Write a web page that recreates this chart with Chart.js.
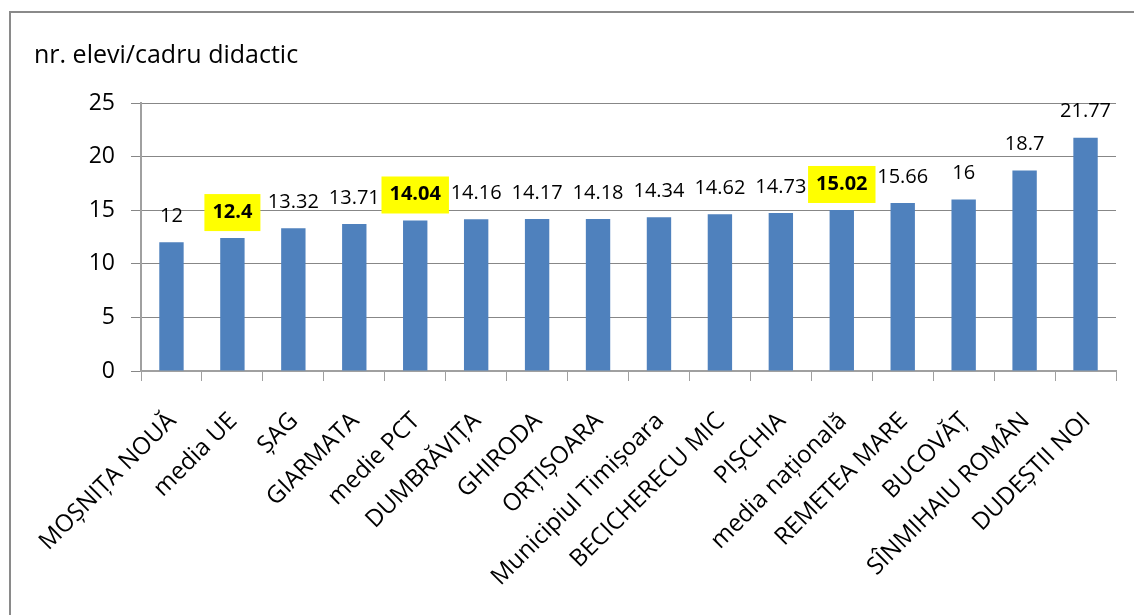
<!DOCTYPE html>
<html>
<head>
<meta charset="utf-8">
<script src="https://cdn.jsdelivr.net/npm/chart.js@4"></script>
<style>
    html, body { margin: 0; padding: 0; background: #fff; overflow: hidden; }
    #wrap { position: relative; width: 1134px; height: 615px; }
    #frame {
        position: absolute; left: 9px; top: 11px; width: 1200px; height: 700px;
        border: 2px solid #8a8a8a; box-sizing: border-box;
    }
    #chart { position: absolute; left: 0; top: 0; }
</style>
</head>
<body>
<div id="wrap">
    <div id="frame"></div>
    <canvas id="chart" width="1134" height="615"></canvas>
</div>
<script>
// === DATA ===
const categories = [
    "MOȘNIȚA NOUĂ", "media UE", "ȘAG", "GIARMATA", "medie PCT", "DUMBRĂVIȚA",
    "GHIRODA", "ORȚIȘOARA", "Municipiul Timișoara", "BECICHERECU MIC", "PIȘCHIA",
    "media națională", "REMETEA MARE", "BUCOVĂȚ", "SÎNMIHAIU ROMÂN", "DUDEȘTII NOI",
];
const values = [12, 12.4, 13.32, 13.71, 14.04, 14.16, 14.17, 14.18, 14.34, 14.62, 14.73, 15.02, 15.66, 16, 18.7, 21.77];
// categories whose value label is highlighted in yellow
const highlighted = ["media UE", "medie PCT", "media națională"];
const yTicks = [0, 5, 10, 15, 20, 25];
const axisTitle = "nr. elevi/cadru didactic";

const FONT = "'Open Sans', sans-serif";
const COLORS = {
    bar: "#4f81bd",
    grid: "#878787",
    axis: "#a0a0a0",
    text: "#000000",
    mark: "#ffff00",
};

// value labels above bars, with yellow boxes for the averages
const valueLabels = {
    id: "valueLabels",
    afterDatasetsDraw(chart) {
        const ctx = chart.ctx;
        const meta = chart.getDatasetMeta(0);
        ctx.save();
        ctx.textAlign = "center";
        ctx.textBaseline = "middle";
        meta.data.forEach((bar, i) => {
            const txt = String(values[i]);
            const hl = highlighted.includes(categories[i]);
            ctx.font = (hl ? "bold " : "") + "20px " + FONT;
            const y = bar.y - 26;
            if (hl) {
                const w = ctx.measureText(txt).width + 16;
                ctx.fillStyle = COLORS.mark;
                ctx.fillRect(bar.x - w / 2, y - 18, w, 37);
            }
            ctx.fillStyle = COLORS.text;
            ctx.fillText(txt, bar.x, y);
        });
        ctx.restore();
    },
};

const axisTitlePlugin = {
    id: "axisTitle",
    afterDraw(chart) {
        const ctx = chart.ctx;
        ctx.save();
        ctx.font = "25px " + FONT;
        ctx.fillStyle = COLORS.text;
        ctx.textBaseline = "middle";
        ctx.fillText(axisTitle, 34, 56);
        ctx.restore();
    },
};

new Chart(document.getElementById("chart"), {
    type: "bar",
    data: {
        labels: categories,
        datasets: [{
            data: values,
            backgroundColor: COLORS.bar,
            borderWidth: 0,
            barPercentage: 0.4,
            categoryPercentage: 1,
        }],
    },
    options: {
        responsive: false,
        animation: false,
        layout: { padding: { top: 103, right: 18, left: 0, bottom: 0 } },
        plugins: { legend: { display: false }, tooltip: { enabled: false } },
        scales: {
            x: {
                afterFit: (s) => { s.height = 244; },
                grid: {
                    offset: true,
                    drawOnChartArea: false,
                    tickLength: 10,
                    color: COLORS.axis,
                },
                border: { color: COLORS.axis, width: 2 },
                ticks: {
                    maxRotation: 45,
                    minRotation: 45,
                    autoSkip: false,
                    padding: 26,
                    labelOffset: 1,
                    color: COLORS.text,
                    font: { family: FONT, size: 24 },
                },
            },
            y: {
                min: 0,
                max: 25,
                afterFit: (s) => { s.width = 141; },
                afterBuildTicks: (s) => { s.ticks = yTicks.map((v) => ({ value: v })); },
                grid: { color: COLORS.grid, tickLength: 10 },
                border: { color: COLORS.axis, width: 2 },
                ticks: {
                    padding: 16,
                    color: COLORS.text,
                    font: { family: FONT, size: 23 },
                },
            },
        },
    },
    plugins: [valueLabels, axisTitlePlugin],
});
</script>
</body>
</html>
